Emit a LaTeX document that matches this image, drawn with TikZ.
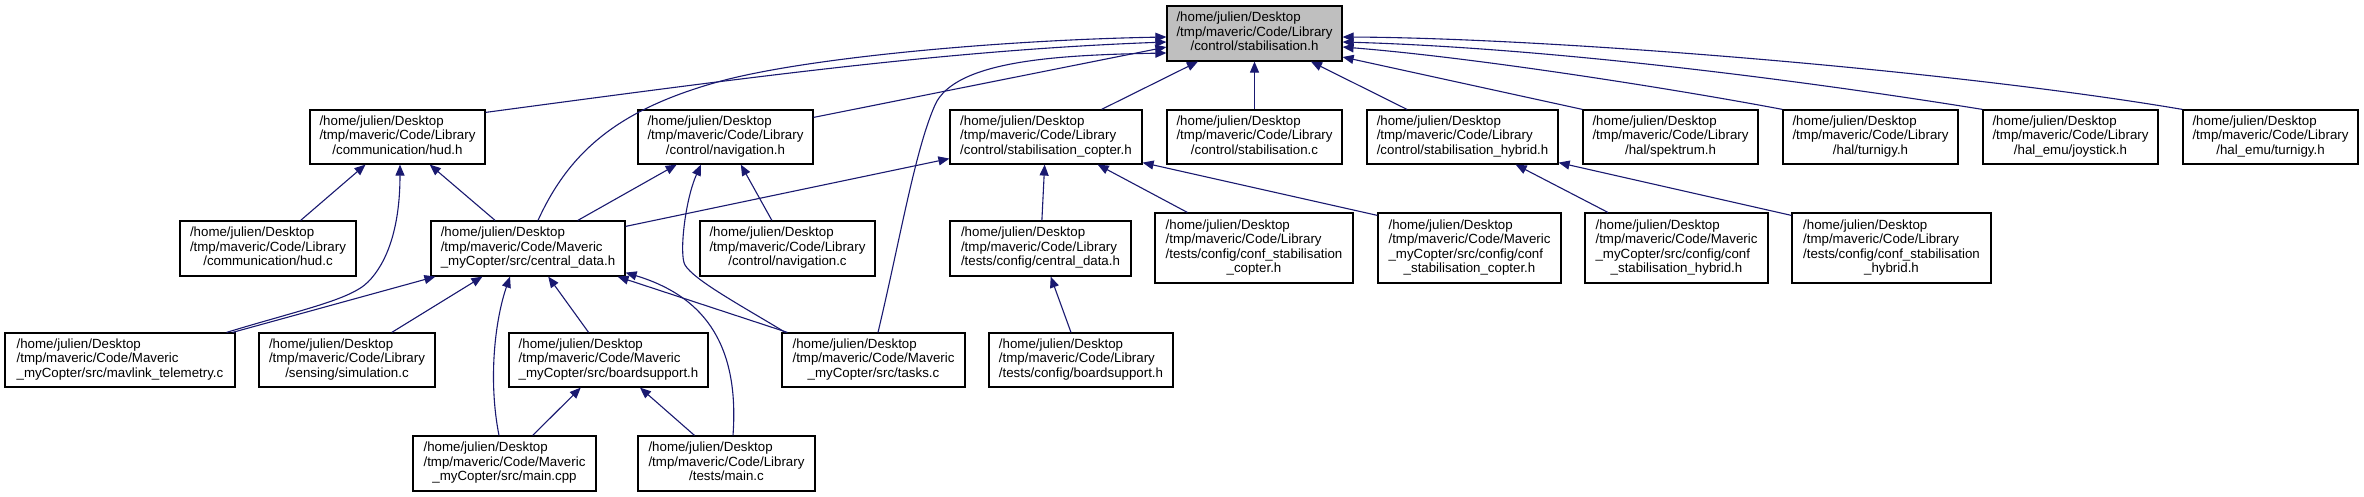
\documentclass[tikz,border=0pt]{standalone}
\usepackage{fontspec}
\setmainfont{Liberation Sans}
\usetikzlibrary{arrows.meta}
\definecolor{midblue}{HTML}{191970}
\definecolor{rootgrey}{HTML}{BFBFBF}
\newcommand{\doxlbl}[3]{\begin{tabular}{@{}l@{}}#1\\#2\\\multicolumn{1}{@{}c@{}}{#3}\end{tabular}}
\newcommand{\doxlblf}[4]{\begin{tabular}{@{}l@{}}#1\\#2\\#3\\\multicolumn{1}{@{}c@{}}{#4}\end{tabular}}
\newcommand{\hj}{/home/julien/Desktop}
\newcommand{\tl}{/tmp/maveric/Code/Library}
\newcommand{\tm}{/tmp/maveric/Code/Maveric}
\begin{document}
\begin{tikzpicture}[x=1pt,y=-1pt,
  box/.style={draw=black, line width=1.2pt, fill=white, inner sep=0pt,
    font=\fontsize{13.3}{14.5}\selectfont},
  edge/.style={draw=midblue, line width=1.1pt, -{Triangle[length=11pt,width=9pt]}}]
\useasboundingbox[fill=white] (0,0) rectangle (2364,497);
% row 0
\node[box, fill=rootgrey, minimum width=175, minimum height=55] (A) at (1254.5,33.5) {\doxlbl{\hj}{\tl}{/control/stabilisation.h}};
% row 1
\node[box, minimum width=175, minimum height=54] (B) at (397.5,137) {\doxlbl{\hj}{\tl}{/communication/hud.h}};
\node[box, minimum width=175, minimum height=54] (C) at (725.5,137) {\doxlbl{\hj}{\tl}{/control/navigation.h}};
\node[box, minimum width=192, minimum height=54] (D) at (1046,137) {\doxlbl{\hj}{\tl}{/control/stabilisation\_copter.h}};
\node[box, minimum width=175, minimum height=54] (E) at (1254.5,137) {\doxlbl{\hj}{\tl}{/control/stabilisation.c}};
\node[box, minimum width=191, minimum height=54] (F) at (1462.5,137) {\doxlbl{\hj}{\tl}{/control/stabilisation\_hybrid.h}};
\node[box, minimum width=175, minimum height=54] (G) at (1670.5,137) {\doxlbl{\hj}{\tl}{/hal/spektrum.h}};
\node[box, minimum width=175, minimum height=54] (H) at (1870.5,137) {\doxlbl{\hj}{\tl}{/hal/turnigy.h}};
\node[box, minimum width=175, minimum height=54] (I) at (2070.5,137) {\doxlbl{\hj}{\tl}{/hal\_emu/joystick.h}};
\node[box, minimum width=175, minimum height=54] (J) at (2270.5,137) {\doxlbl{\hj}{\tl}{/hal\_emu/turnigy.h}};
% row 2
\node[box, minimum width=176, minimum height=55] (K) at (268,248.5) {\doxlbl{\hj}{\tl}{/communication/hud.c}};
\node[box, minimum width=194, minimum height=55] (L) at (528,248.5) {\doxlbl{\hj}{\tm}{\_myCopter/src/central\_data.h}};
\node[box, minimum width=175, minimum height=55] (M) at (787.5,248.5) {\doxlbl{\hj}{\tl}{/control/navigation.c}};
\node[box, minimum width=181, minimum height=55] (N) at (1040.5,248.5) {\doxlbl{\hj}{\tl}{/tests/config/central\_data.h}};
\node[box, minimum width=198, minimum height=70] (O) at (1254,248) {\doxlblf{\hj}{\tl}{/tests/config/conf\_stabilisation}{\_copter.h}};
\node[box, minimum width=183, minimum height=70] (P) at (1469.5,248) {\doxlblf{\hj}{\tm}{\_myCopter/src/config/conf}{\_stabilisation\_copter.h}};
\node[box, minimum width=183, minimum height=70] (Q) at (1676.5,248) {\doxlblf{\hj}{\tm}{\_myCopter/src/config/conf}{\_stabilisation\_hybrid.h}};
\node[box, minimum width=199, minimum height=70] (R) at (1891.5,248) {\doxlblf{\hj}{\tl}{/tests/config/conf\_stabilisation}{\_hybrid.h}};
% row 3
\node[box, minimum width=230, minimum height=54] (S) at (120,360) {\doxlbl{\hj}{\tm}{\_myCopter/src/mavlink\_telemetry.c}};
\node[box, minimum width=176, minimum height=54] (T) at (347,360) {\doxlbl{\hj}{\tl}{/sensing/simulation.c}};
\node[box, minimum width=199, minimum height=54] (U) at (608.5,360) {\doxlbl{\hj}{\tm}{\_myCopter/src/boardsupport.h}};
\node[box, minimum width=183, minimum height=54] (V) at (873.5,360) {\doxlbl{\hj}{\tm}{\_myCopter/src/tasks.c}};
\node[box, minimum width=184, minimum height=54] (W) at (1081,360) {\doxlbl{\hj}{\tl}{/tests/config/boardsupport.h}};
% row 4
\node[box, minimum width=183, minimum height=55] (X) at (504.5,463.5) {\doxlbl{\hj}{\tm}{\_myCopter/src/main.cpp}};
\node[box, minimum width=177, minimum height=55] (Y) at (726.5,463.5) {\doxlbl{\hj}{\tl}{/tests/main.c}};
% edges into stabilisation.h
\draw[edge] ([xshift=10pt]L.north) .. controls (570,150) and (620,110) .. (714,83) .. controls (800,58) and (1000,40) .. ([yshift=-3.5pt]A.west);
\draw[edge] ([yshift=-3pt]B.north east) .. controls (750,77) and (950,50) .. ([yshift=-8.5pt]A.west);
\draw[edge] ([yshift=-8pt]C.north east) -- ([yshift=-13.5pt]A.west);
\draw[edge] ([xshift=4.5pt]V.north) .. controls (900,240) and (915,150) .. (935,105) .. controls (955,60) and (1060,55) .. ([yshift=-19.5pt]A.west);
\draw[edge] (D) -- (A);
\draw[edge] (E) -- (A);
\draw[edge] (F) -- (A);
\draw[edge] (G.north west) -- ([yshift=-23.5pt]A.east);
\draw[edge] (H.north west) .. controls (1680,90) and (1480,58) .. ([yshift=-13.5pt]A.east);
\draw[edge] (I.north west) .. controls (1800,80) and (1550,48) .. ([yshift=-8.5pt]A.east);
\draw[edge] (J.north west) .. controls (1950,70) and (1550,38) .. ([yshift=-3.5pt]A.east);
% row 2 -> row 1
\draw[edge] (K) -- (B);
\draw[edge] (L) -- (B);
\draw[edge] (L) -- (C);
\draw[edge] (M) -- (C);
\draw[edge] ([yshift=-6pt]L.north east) -- ([yshift=6pt]D.south west);
\draw[edge] (N) -- (D);
\draw[edge] (O) -- (D);
\draw[edge] ([yshift=-3pt]P.north west) -- ([yshift=2pt]D.south east);
\draw[edge] (Q) -- (F);
\draw[edge] ([yshift=-3pt]R.north west) -- ([yshift=2pt]F.south east);
% row 3 -> upper
\draw[edge] ([xshift=-9pt]S.north east) .. controls (300,310) and (350,300) .. (368,282) .. controls (386,264) and (400,230) .. ([xshift=2.5pt]B.south);
\draw[edge] ([xshift=-3pt]S.north east) -- ([xshift=5pt]L.south west);
\draw[edge] (T) -- (L);
\draw[edge] (U) -- (L);
\draw[edge] ([xshift=6pt]V.north west) -- ([xshift=-8pt]L.south east);
\draw[edge] ([xshift=4pt]V.north west) .. controls (740,305) and (694,280) .. (685,265) .. controls (679,255) and (685,200) .. ([xshift=-24.5pt]C.south);
\draw[edge] (W) -- (N);
% row 4 -> upper
\draw[edge] ([xshift=-5.5pt]X.north) .. controls (488,380) and (495,320) .. ([xshift=-18pt]L.south);
\draw[edge] ([xshift=6.5pt]Y.north) .. controls (740,340) and (700,295) .. ([yshift=4pt]L.south east);
\draw[edge] (X) -- (U);
\draw[edge] (Y) -- (U);
\end{tikzpicture}
\end{document}
